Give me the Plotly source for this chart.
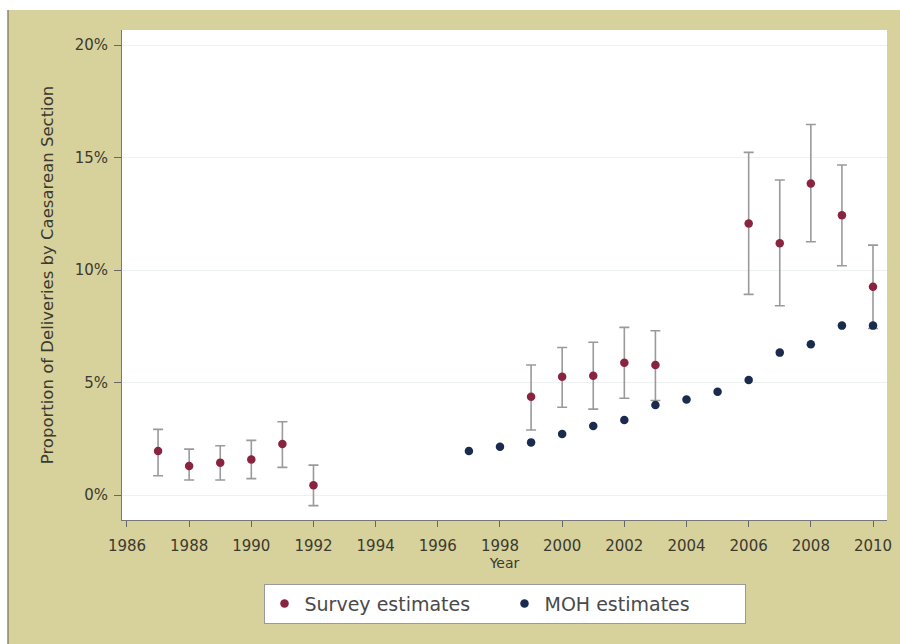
import plotly.graph_objects as go

# Survey estimates (percent) with confidence intervals
survey_years = [1987, 1988, 1989, 1990, 1991, 1992, 1999, 2000, 2001, 2002, 2003, 2006, 2007, 2008, 2009, 2010]
survey_vals  = [1.96, 1.29, 1.44, 1.58, 2.27, 0.43, 4.37, 5.26, 5.30, 5.88, 5.78, 12.07, 11.19, 13.85, 12.44, 9.26]
survey_hi    = [2.92, 2.04, 2.19, 2.43, 3.26, 1.33, 5.78, 6.56, 6.79, 7.45, 7.30, 15.23, 14.00, 16.47, 14.67, 11.11]
survey_lo    = [0.86, 0.67, 0.67, 0.73, 1.23, -0.47, 2.89, 3.90, 3.82, 4.30, 4.20, 8.92, 8.41, 11.26, 10.19, 7.40]

# MOH estimates (percent)
moh_years = [1997, 1998, 1999, 2000, 2001, 2002, 2003, 2004, 2005, 2006, 2007, 2008, 2009, 2010]
moh_vals  = [1.96, 2.15, 2.34, 2.71, 3.07, 3.33, 4.00, 4.25, 4.59, 5.11, 6.33, 6.70, 7.53, 7.53]

x_ticks = list(range(1986, 2011, 2))
y_ticks = [0, 5, 10, 15, 20]

err_plus = [h - v for h, v in zip(survey_hi, survey_vals)]
err_minus = [v - l for v, l in zip(survey_vals, survey_lo)]

KHAKI = "#d7d19c"
FONT = "DejaVu Sans, Liberation Sans, Arial, sans-serif"
TXT = "#3b3a30"

fig = go.Figure()
fig.add_trace(go.Scatter(
    x=survey_years, y=survey_vals, mode="markers", name="Survey estimates",
    marker=dict(color="#8a2340", size=8.5),
    error_y=dict(type="data", symmetric=False, array=err_plus, arrayminus=err_minus,
                 color="#9a9a9a", thickness=1.6, width=5),
))
fig.add_trace(go.Scatter(
    x=moh_years, y=moh_vals, mode="markers", name="MOH estimates",
    marker=dict(color="#1b2b4d", size=8.5),
))

fig.update_layout(
    width=900, height=644,
    margin=dict(l=122, r=13, t=30, b=124, autoexpand=False),
    paper_bgcolor=KHAKI, plot_bgcolor="white",
    font=dict(family=FONT, color=TXT),
    showlegend=True,
    legend=dict(orientation="h", x=0.5, xanchor="center", y=-0.13, yanchor="top",
                bgcolor="white", bordercolor="#9a9a9a", borderwidth=1,
                font=dict(size=19, color="#4a4a4a"), entrywidth=195,
                itemwidth=30),
    shapes=[
        dict(type="rect", xref="paper", yref="paper", x0=-0.17, x1=1.03, y0=1.0408, y1=1.07,
             fillcolor="white", line=dict(width=0), layer="below"),
        dict(type="rect", xref="paper", yref="paper", x0=-0.17, x1=-0.1490, y0=-0.26, y1=1.07,
             fillcolor="white", line=dict(width=0), layer="below"),
        dict(type="line", xref="paper", yref="paper", x0=-0.1490, x1=-0.1490, y0=-0.26, y1=1.0408,
             line=dict(color="#8a8672", width=1.5), layer="below"),
    ],
)

fig.update_xaxes(
    range=[1985.84, 2010.45], tickvals=x_ticks, ticks="outside", ticklen=6,
    tickcolor="#666666", showline=True, linecolor="#777777", linewidth=1,
    showgrid=False, zeroline=False, tickfont=dict(size=15, color=TXT),
    ticklabelstandoff=6,
    title=dict(text="Year", font=dict(size=14, color=TXT), standoff=0),
)
fig.update_yaxes(
    range=[-1.11, 20.67], tickvals=y_ticks, ticktext=[f"{v}%" for v in y_ticks],
    ticks="outside", ticklen=7, tickcolor="#666666", showline=True,
    linecolor="#777777", linewidth=1, showgrid=True, gridcolor="#eef1f1",
    zeroline=False, tickfont=dict(size=15, color=TXT),
    ticklabelstandoff=3,
    title=dict(text="Proportion of Deliveries by Caesarean Section",
               font=dict(size=16.5, color=TXT), standoff=16),
)

fig.write_html("out.html")
